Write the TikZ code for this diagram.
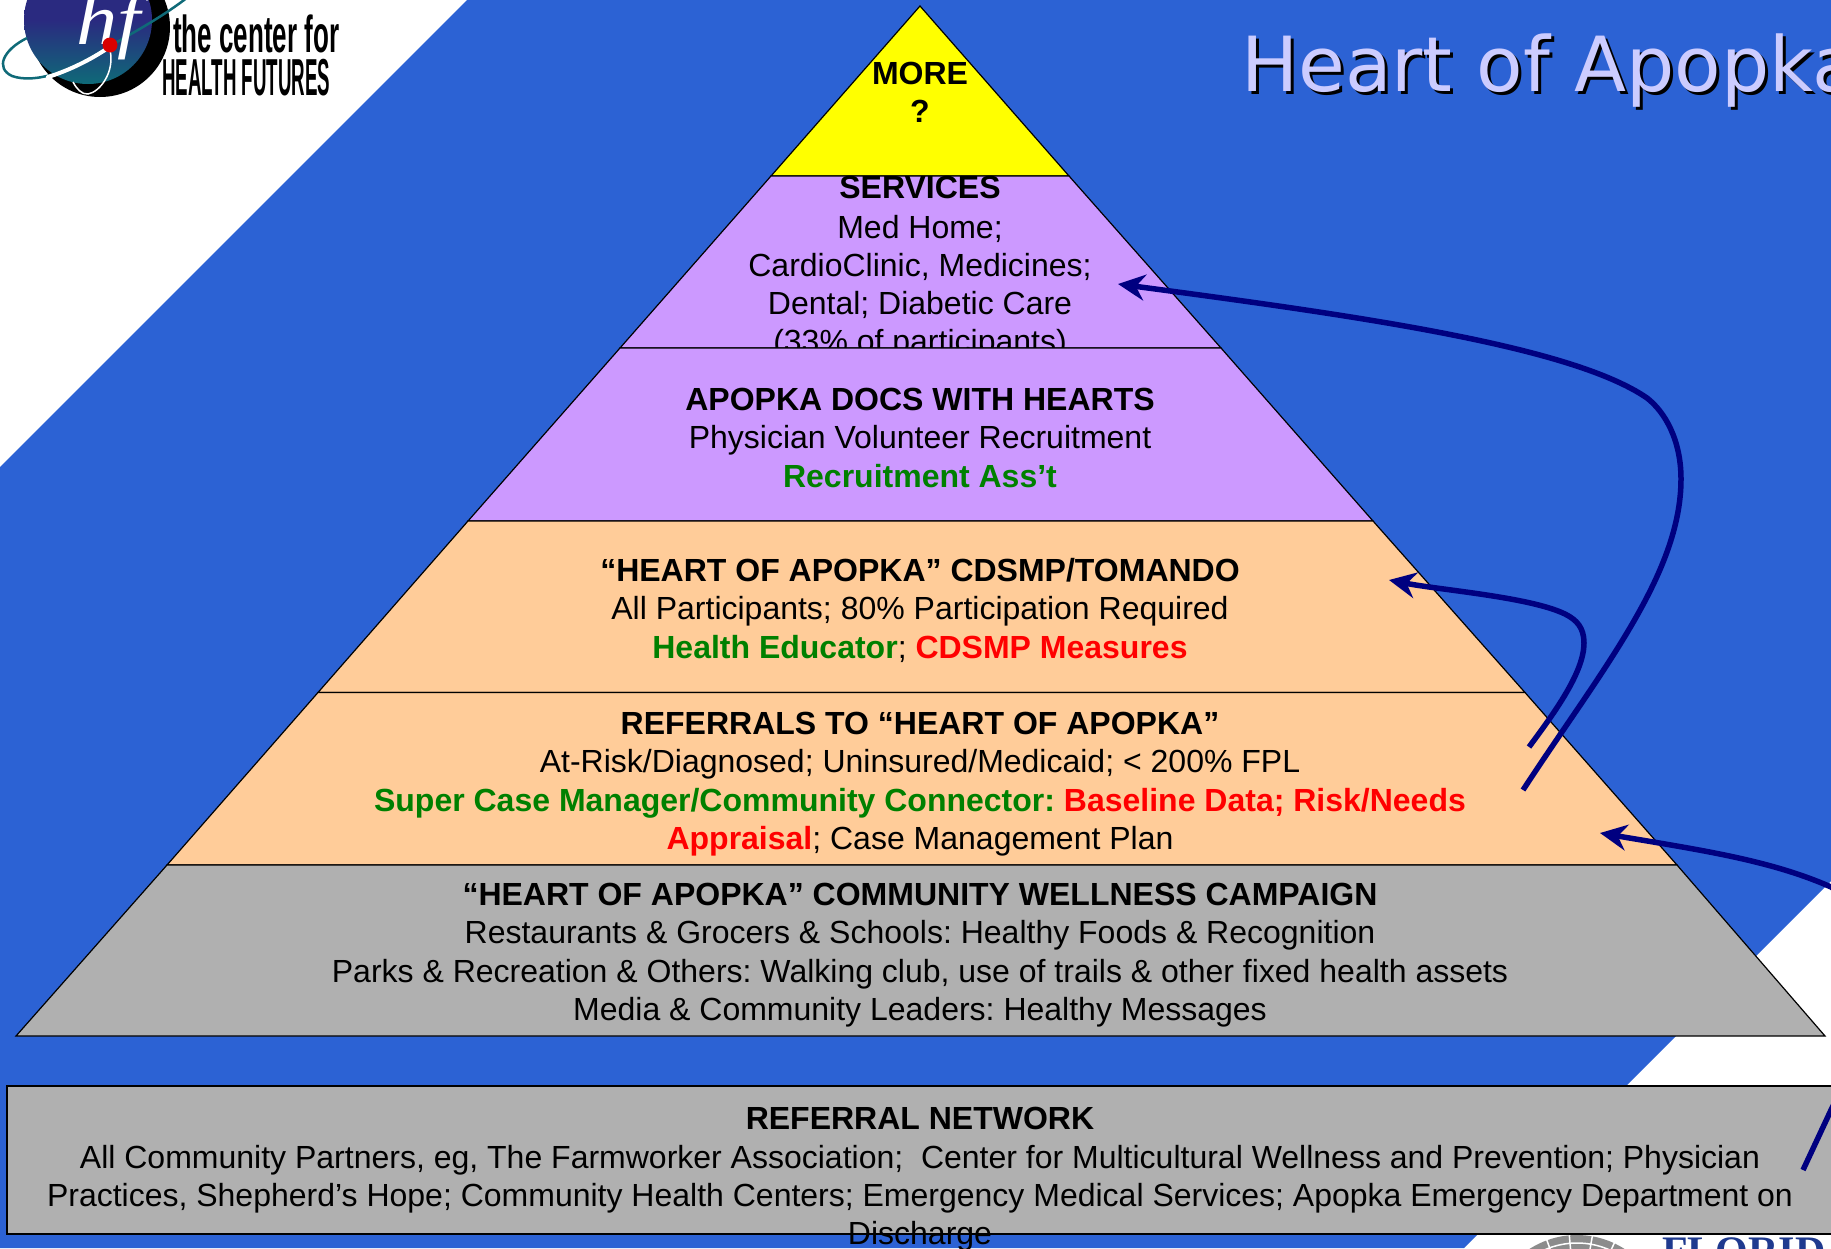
\documentclass[tikz,border=0pt]{standalone}
\usepackage{fontspec}
\usepackage{graphicx}
\setmainfont{Liberation Sans}
\newfontfamily\titlefont{DejaVu Sans}
\newfontfamily\logoserif{Liberation Serif}
\usetikzlibrary{arrows.meta}
\definecolor{bgblue}{HTML}{2C62D4}
\definecolor{lilac}{HTML}{CC99FF}
\definecolor{peach}{HTML}{FFCC99}
\definecolor{midgray}{HTML}{B0B0B0}
\definecolor{pureyellow}{HTML}{FFFF00}
\definecolor{dkgreen}{HTML}{008000}
\definecolor{purered}{HTML}{FF0000}
\definecolor{arrownavy}{HTML}{000080}
\definecolor{titlelilac}{HTML}{CCCCFF}
\definecolor{floblue}{HTML}{1F3A8F}
\definecolor{globetop}{HTML}{2A2A80}
\definecolor{globebot}{HTML}{0F6A78}
\definecolor{sealgray}{HTML}{8C8C8C}
\tikzset{
  x=1pt,y=-1pt,
  layer/.style={draw=black,line width=1.2pt,line join=miter},
  txt/.style={anchor=base,inner sep=0pt,outer sep=0pt,yshift=-1pt,text=black,font=\fontsize{32}{38.5}\selectfont},
  btxt/.style={txt,font=\fontsize{32}{38.5}\selectfont\bfseries},
  flow/.style={draw=arrownavy,line width=5.5pt,line cap=butt},
  flowtip/.style={flow,-{Stealth[length=27pt,width=26pt,inset=9pt]}},
  titletxt/.style={anchor=base west,inner sep=0pt,font=\fontsize{76}{80}\selectfont\titlefont},
  logotxt/.style={anchor=base west,inner sep=0pt,text=black,font=\fontsize{52}{52}\selectfont\bfseries}
}
\newcommand{\gr}[1]{\textcolor{dkgreen}{\textbf{#1}}}
\newcommand{\rd}[1]{\textcolor{purered}{\textbf{#1}}}
\begin{document}
\frenchspacing
\begin{tikzpicture}
\useasboundingbox (0,0) rectangle (1831,1248);
\clip (0,0) rectangle (1831,1248);
\fill[white] (0,0) rectangle (1831,1248);
\fill[bgblue] (467,0) -- (1831,0) -- (1831,881) -- (1464,1248) -- (0,1248) -- (0,467) -- cycle;

% Lower-right partner logo, cut by the page edge
\fill[sealgray] (1577,1323) circle (88);
\foreach \a in {-140,-125,...,-40}{\draw[white,line width=1.5pt] (1577,1323) -- ++(\a:92);}
\draw[white,line width=1.5pt] (1577,1323) circle (80);
\node[anchor=base west,inner sep=0pt,text=floblue,font=\fontsize{42}{42}\selectfont\logoserif\bfseries] (flo) at (1662,1265) {FLORIDA};

% Upper-left logo
\fill[black] (100,27) circle (70);
\shade[top color=globetop,bottom color=globebot,middle color=globetop] (88,20) circle (64);
\draw[globebot,line width=2.5pt] (27,38) .. controls (3,50) and (-5,68) .. (12,76) .. controls (35,84) and (70,72) .. (108,47) .. controls (135,32) and (165,15) .. (188,-3);
\draw[white,line width=4pt,line cap=round] (48,77) .. controls (70,70) and (90,60) .. (108,48);
\draw[white,line width=1.5pt] (110,50) .. controls (115,72) and (100,92) .. (88,94) .. controls (82,95) and (76,88) .. (73,82);
\node[anchor=base west,inner sep=0pt,text=white,font=\fontsize{66}{66}\selectfont\logoserif\itshape] (hf) at (76,44) {\scalebox{1.25}[1.1]{hf}};
\fill[red!85!black] (110,45) circle (7.5);
\node[logotxt] (lg1) at (173,52) {\scalebox{0.5}[1]{the center for}};
\node[logotxt] (lg2) at (162,95) {\scalebox{0.36}[1]{HEALTH FUTURES}};

% Title
\node[titletxt,text=black] (titleshadow) at (1244,94) {Heart of Apopka};
\node[titletxt,text=titlelilac] (title) at (1241,91) {Heart of Apopka};

% Pyramid
\fill[layer,fill=pureyellow] (920,6) -- (1069,176) -- (771,176) -- cycle;
\node[btxt] (more) at (920,83) {MORE};
\node[btxt] (q) at (920,121.7) {?};

\fill[layer,fill=lilac] (771,176) -- (1069,176) -- (1221,348) -- (620,348) -- cycle;
\node[btxt] (s1) at (920,197) {SERVICES};
\node[txt] (s2) at (920,237) {Med Home;};
\node[txt] (s3) at (920,275) {CardioClinic, Medicines;};
\node[txt] (s4) at (920,313) {Dental; Diabetic Care};
\node[txt] (s5) at (920,351) {(33\% of participants)};

\fill[layer,fill=lilac] (620,348) -- (1221,348) -- (1373,521) -- (468,521) -- cycle;
\node[btxt] (d1) at (920,409) {APOPKA DOCS WITH HEARTS};
\node[txt] (d2) at (920,447.5) {Physician Volunteer Recruitment};
\node[txt] (d3) at (920,486) {\gr{Recruitment Ass’t}};

\fill[layer,fill=peach] (468,521) -- (1373,521) -- (1525,692.5) -- (318,692.5) -- cycle;
\node[btxt] (h1) at (920,580) {“HEART OF APOPKA” CDSMP/TOMANDO};
\node[txt] (h2) at (920,618.5) {All Participants; 80\% Participation Required};
\node[txt] (h3) at (920,657) {\gr{Health Educator}; \rd{CDSMP Measures}};

\fill[layer,fill=peach] (318,692.5) -- (1525,692.5) -- (1677,865) -- (167,865) -- cycle;
\node[btxt] (r1) at (920,733) {REFERRALS TO “HEART OF APOPKA”};
\node[txt] (r2) at (920,771.5) {At-Risk/Diagnosed; Uninsured/Medicaid; < 200\% FPL};
\node[txt] (r3) at (920,810) {\gr{Super Case Manager/Community Connector:} \rd{Baseline Data; Risk/Needs}};
\node[txt] (r4) at (920,848.5) {\rd{Appraisal}; Case Management Plan};

\fill[layer,fill=midgray] (167,865) -- (1677,865) -- (1825,1036) -- (16,1036) -- cycle;
\node[btxt] (c1) at (920,904) {“HEART OF APOPKA” COMMUNITY WELLNESS CAMPAIGN};
\node[txt] (c2) at (920,942.5) {Restaurants \& Grocers \& Schools: Healthy Foods \& Recognition};
\node[txt] (c3) at (920,981) {Parks \& Recreation \& Others: Walking club, use of trails \& other fixed health assets};
\node[txt] (c4) at (920,1019.5) {Media \& Community Leaders: Healthy Messages};

% Referral network
\fill[layer,line width=2pt,fill=midgray] (7,1086) rectangle (1860,1234);
\node[btxt] (n1) at (920,1128) {REFERRAL NETWORK};
\node[txt] (n2) at (920,1167) {All Community Partners, eg, The Farmworker Association;\ \ Center for Multicultural Wellness and Prevention; Physician};
\node[txt] (n3) at (920,1205) {Practices, Shepherd’s Hope; Community Health Centers; Emergency Medical Services; Apopka Emergency Department on};
\node[txt] (n4) at (920,1243) {Discharge};

% Connectors
\coordinate (a1s) at (1523,790);
\coordinate (a1e) at (1118,284);
\coordinate (a2s) at (1529,747);
\coordinate (a2e) at (1389,580);
\coordinate (a3s) at (1803,1170);
\coordinate (a3e) at (1600,833);
\draw[flowtip] (a1s) .. controls (1600,672) and (1681,575) .. (1681,479) .. controls (1681,440) and (1665,412) .. (1647,398) .. controls (1570,345) and (1350,315) .. (a1e);
\draw[flowtip] (a2s) .. controls (1555,712) and (1584,672) .. (1584,643) .. controls (1584,628) and (1577,620) .. (1565,614) .. controls (1530,597) and (1440,590) .. (a2e);
\draw[flowtip] (a3s) -- (1831,1110) .. controls (1880,1010) and (1900,930) .. (1831,887) .. controls (1770,860) and (1700,850) .. (a3e);
\end{tikzpicture}
\end{document}
